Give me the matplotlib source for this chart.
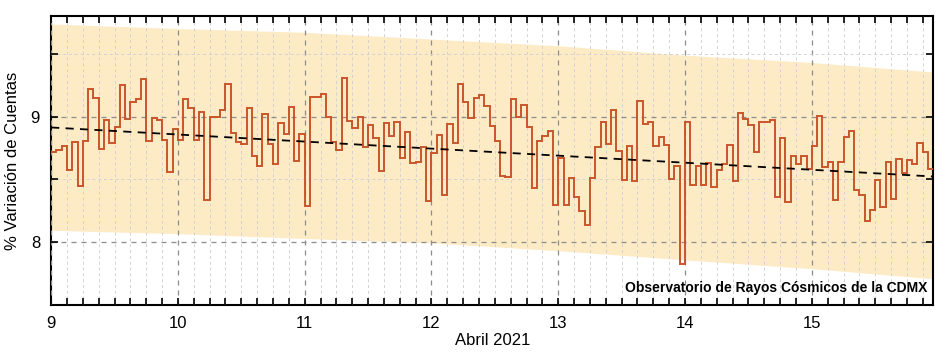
import numpy as np
import matplotlib
matplotlib.use("Agg")
import matplotlib.pyplot as plt
from matplotlib.ticker import MultipleLocator, FixedLocator

# hourly % count variation, April 9 00h .. April 15 22h
day9 = [8.715, 8.736, 8.768, 8.571, 8.797, 8.448, 8.808, 9.221, 9.144, 8.744, 8.971, 8.789,
        8.920, 9.251, 8.979, 9.117, 9.136, 9.296, 8.808, 8.992, 8.973, 8.813, 8.555, 8.904]
day10 = [8.816, 9.141, 9.069, 8.811, 9.037, 8.336, 8.997, 8.997, 9.048, 9.259, 8.869, 8.797,
         8.779, 9.064, 8.688, 8.603, 9.024, 8.784, 8.619, 8.949, 8.861, 9.075, 8.643, 8.861]
day11 = [8.288, 9.155, 9.155, 9.181, 8.995, 8.797, 8.731, 9.309, 8.963, 8.909, 9.000, 8.757,
         8.931, 8.827, 8.565, 8.949, 8.843, 8.955, 8.669, 8.880, 8.629, 8.635, 8.757, 8.331]
day12 = [8.709, 8.853, 8.373, 8.941, 8.787, 9.259, 9.115, 8.987, 9.144, 9.168, 9.080, 8.923,
         8.805, 8.528, 8.517, 9.139, 9.000, 9.088, 8.915, 8.435, 8.803, 8.843, 8.888, 8.293]
day13 = [8.669, 8.293, 8.509, 8.363, 8.245, 8.136, 8.512, 8.757, 8.955, 8.784, 9.051, 8.725,
         8.496, 8.765, 8.485, 9.123, 8.941, 8.955, 8.768, 8.837, 8.771, 8.504, 8.603, 7.829]
day14 = [8.957, 8.456, 8.608, 8.456, 8.627, 8.443, 8.576, 8.624, 8.771, 8.491, 9.027, 8.981,
         8.933, 8.717, 8.957, 8.957, 8.971, 8.360, 8.829, 8.323, 8.683, 8.624, 8.683, 8.579]
day15 = [8.763, 9.003, 8.595, 8.635, 8.336, 8.637, 8.835, 8.888, 8.416, 8.376, 8.173, 8.253,
         8.496, 8.280, 8.637, 8.341, 8.664, 8.549, 8.653, 8.619, 8.789, 8.720, 8.584]

# shaded band (read at day marks)
band_days = [9, 10, 11, 12, 13, 14, 15, 15.958]
band_upper = [9.736, 9.700, 9.670, 9.616, 9.563, 9.488, 9.430, 9.354]
band_lower = [8.095, 8.068, 8.030, 7.995, 7.933, 7.860, 7.790, 7.710]

# linear trend
trend_days = [9, 15.958]
trend_vals = [8.913, 8.523]

counts = np.array(day9 + day10 + day11 + day12 + day13 + day14 + day15)
edges = 9 + np.arange(len(counts) + 1) / 24.0

fig = plt.figure(figsize=(9.47, 3.54), dpi=100)
ax = fig.add_axes([0.054, 0.138, 0.9315, 0.817])

ax.fill_between(band_days, band_lower, band_upper, color="#fdebc6", lw=0, zorder=1)
ax.stairs(counts, edges, color="#c9552b", lw=1.4, baseline=None, zorder=3)
ax.plot(trend_days, trend_vals, color="black", ls=(0, (4.5, 3.5)), lw=1.3, zorder=4)

ax.set_xlim(9, 15.958)
ax.set_ylim(7.5, 9.8)

ax.xaxis.set_major_locator(MultipleLocator(1))
ax.xaxis.set_minor_locator(MultipleLocator(0.125))
ax.yaxis.set_major_locator(FixedLocator([8, 9]))
ax.yaxis.set_minor_locator(FixedLocator([8.5, 9.5]))

ax.grid(which="major", color="#8c8c8c", ls=(0, (4, 4)), lw=0.9, zorder=2)
ax.grid(which="minor", color="#d2d2d2", ls=(0, (3, 3)), lw=0.7, zorder=2)
ax.set_axisbelow(False)

ax.tick_params(which="both", direction="in", top=True, right=True, length=5, width=1.2,
               color="black")
ax.tick_params(which="major", labelsize=12, pad=8)
for lab in ax.get_xticklabels() + ax.get_yticklabels():
    lab.set_family(["Liberation Sans Narrow", "Liberation Sans"])
for sp in ax.spines.values():
    sp.set_linewidth(1.5)

ax.set_xlabel("Abril 2021", fontsize=12, family=["Liberation Sans Narrow", "Liberation Sans"],
              labelpad=1)
ax.set_ylabel("% Variación de Cuentas", fontsize=12, family="Liberation Sans", labelpad=8)

ax.text(0.993, 0.035, "Observatorio de Rayos Cósmicos de la CDMX", transform=ax.transAxes,
        ha="right", va="bottom", fontsize=10, fontweight="bold",
        family=["Liberation Sans Narrow", "Liberation Sans"], zorder=5)

fig.savefig("out.png", dpi=100)
